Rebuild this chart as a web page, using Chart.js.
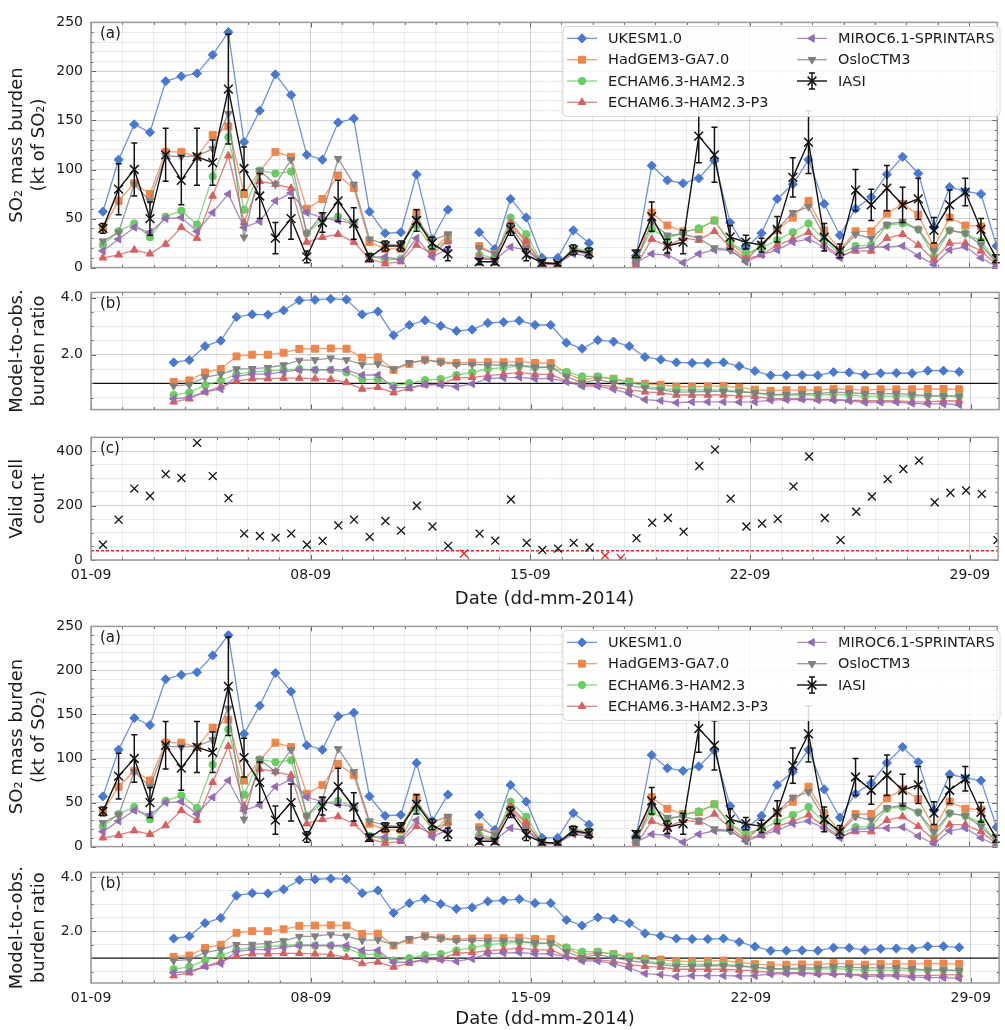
<!DOCTYPE html>
<html>
<head>
<meta charset="utf-8">
<script src="https://cdn.jsdelivr.net/npm/chart.js@4.4.1/dist/chart.umd.min.js"></script>
<style>
  html, body { margin: 0; padding: 0; background: #fff; overflow: hidden; }
  #page { position: relative; width: 1005px; height: 1030px; }
  #page canvas { position: absolute; left: 0; }
</style>
</head>
<body>
<div id="page">
  <canvas id="a1" width="1005" height="278" style="top:6px"></canvas>
  <canvas id="b1" width="1005" height="150" style="top:276px"></canvas>
  <canvas id="c1" width="1005" height="189" style="top:421px"></canvas>
  <canvas id="a2" width="1005" height="253" style="top:610px"></canvas>
  <canvas id="b2" width="1005" height="174" style="top:856px"></canvas>
</div>
<script>
// half-day IASI overpasses, 01-09 to 29-09 (58 slots), days counted from 01-09 00:00
const firstSlotDay = 0.38;
const slotStep = 0.5;
const ratioLag = 4.5;      // ratio series starts 4.5 slots after the first overpass
const xMax = 28.9;
const dateTickDays = [0, 7, 14, 21, 28];
const dateTickLabels = ['01-09', '08-09', '15-09', '22-09', '29-09'];

// SO2 mass burden (kt of SO2)
const ukesmBurden = [57,110,146,138,190,195,198,217,240,128,
  160,197,176,115,110,148,152,57,35,36,
  95,29,59,null,36,19,70,51,10,10,
  38,25,null,null,12,104,89,86,91,109,
  46,20,35,70,85,110,65,33,60,72,
  95,113,96,41,82,78,75,22];
const hadgemBurden = [40,68,86,75,118,118,113,135,144,75,
  98,118,113,60,70,94,81,26,19,19,
  56,17,33,null,22,14,43,26,5,3,
  19,16,null,null,3,56,43,37,39,48,
  25,12,22,38,51,68,38,18,37,37,
  55,65,54,21,51,43,42,7];
const echamBurden = [23,37,45,31,52,58,44,93,133,59,
  99,96,98,35,49,52,45,12,8,9,
  43,20,27,null,13,10,51,34,5,3,
  20,17,null,null,8,39,30,36,40,48,
  26,15,20,28,36,45,28,14,22,23,
  43,45,39,11,38,35,27,5];
const echamP3Burden = [10,13,18,14,24,41,30,73,114,46,
  88,85,81,26,31,34,26,9,4,6,
  23,14,27,null,11,8,46,27,3,3,
  17,14,null,null,2,29,22,30,28,37,
  21,9,13,23,29,36,23,12,17,17,
  30,34,23,8,25,25,17,3];
const mirocBurden = [17,29,41,36,50,51,37,56,75,41,
  47,68,76,56,51,48,45,11,11,8,
  30,11,19,null,9,8,21,18,5,4,
  14,12,null,null,5,14,13,5,14,18,
  18,6,13,18,26,29,21,10,19,21,
  21,22,12,3,18,21,10,1];
const osloBurden = [27,36,85,68,114,113,114,121,157,31,
  99,85,110,35,54,111,85,29,24,23,
  50,28,34,null,20,14,42,20,5,3,
  17,14,null,null,6,46,33,34,30,20,
  18,7,24,39,56,62,32,16,34,30,
  44,47,39,17,38,35,23,5];
const iasiBurden = [40,80,100,50,115,89,113,107,182,101,
  73,30,50,11,46,68,45,10,22,22,
  48,25,14,null,6,6,39,13,5,4,
  18,15,null,null,14,52,22,26,134,115,
  31,26,23,39,92,128,31,17,79,64,
  81,64,70,38,64,77,39,9];
const iasiError = [5,26,27,17,27,25,29,23,56,22,
  23,16,21,6,10,21,16,4,5,5,
  11,6,7,null,3,3,6,6,3,2,
  5,5,null,null,4,15,7,12,27,28,
  12,7,7,13,20,32,14,7,21,16,
  23,18,21,13,15,14,11,4];

// model-to-obs. burden ratio (51 values)
const ukesmRatio = [1.73,1.81,2.30,2.49,3.32,3.41,3.40,3.55,3.90,3.92,
  3.95,3.93,3.41,3.51,2.68,3.04,3.20,3.01,2.83,2.88,
  3.11,3.14,3.19,3.04,3.04,2.42,2.21,2.51,2.46,2.30,
  1.92,1.83,1.73,1.71,1.71,1.73,1.60,1.43,1.28,1.28,
  1.29,1.28,1.39,1.38,1.30,1.35,1.36,1.35,1.44,1.44,1.40];
const hadgemRatio = [1.05,1.10,1.38,1.50,1.94,2.00,2.00,2.07,2.20,2.21,
  2.22,2.21,1.90,1.91,1.47,1.68,1.83,1.76,1.71,1.73,
  1.74,1.74,1.76,1.71,1.71,1.36,1.11,1.22,1.16,1.06,
  0.98,0.95,0.88,0.88,0.89,0.91,0.85,0.78,0.74,0.76,
  0.77,0.76,0.81,0.79,0.76,0.79,0.79,0.79,0.80,0.80,0.79];
const echamRatio = [0.59,0.68,0.93,1.09,1.32,1.39,1.43,1.47,1.50,1.47,
  1.47,1.38,1.14,1.14,0.91,1.00,1.11,1.15,1.29,1.38,
  1.50,1.55,1.60,1.55,1.55,1.40,1.24,1.24,1.14,1.03,
  0.91,0.82,0.77,0.77,0.77,0.77,0.72,0.67,0.59,0.59,
  0.59,0.59,0.61,0.59,0.55,0.55,0.55,0.56,0.56,0.56,0.55];
const echamP3Ratio = [0.35,0.46,0.70,0.88,1.08,1.16,1.16,1.18,1.18,1.16,
  1.14,1.03,0.80,0.86,0.67,0.82,0.95,0.97,1.19,1.21,
  1.27,1.32,1.38,1.31,1.31,1.08,0.95,0.95,0.88,0.77,
  0.70,0.67,0.59,0.59,0.59,0.59,0.56,0.54,0.46,0.46,
  0.46,0.44,0.44,0.41,0.39,0.39,0.39,0.35,0.35,0.38,0.39];
const mirocRatio = [0.46,0.51,0.70,0.80,1.24,1.32,1.32,1.40,1.47,1.47,
  1.47,1.47,1.29,1.29,0.85,0.85,0.95,0.95,0.88,0.98,
  1.16,1.19,1.21,1.16,1.17,1.05,0.90,0.90,0.79,0.64,
  0.43,0.39,0.32,0.35,0.35,0.35,0.34,0.35,0.41,0.43,
  0.44,0.41,0.41,0.39,0.33,0.34,0.34,0.30,0.28,0.28,0.25];
const osloRatio = [0.91,0.95,1.21,1.32,1.50,1.51,1.55,1.64,1.80,1.82,
  1.88,1.82,1.66,1.68,1.50,1.72,1.81,1.73,1.66,1.66,
  1.64,1.64,1.63,1.57,1.57,1.24,1.01,1.14,1.01,0.91,
  0.84,0.77,0.69,0.70,0.72,0.72,0.70,0.67,0.61,0.61,
  0.64,0.64,0.69,0.67,0.64,0.64,0.64,0.61,0.56,0.56,0.55];

// IASI valid cell count per overpass
const validCells = [56,148,262,235,315,301,430,308,227,97,
  88,82,97,56,70,127,148,85,143,108,
  199,123,52,24,97,71,222,63,37,42,
  63,46,16,7,80,137,154,104,345,405,
  225,123,134,151,270,380,154,73,177,233,
  297,334,365,212,247,255,243,73];
const cellThreshold = 34;

const models = [
  { name: 'UKESM1.0', burden: ukesmBurden, ratio: ukesmRatio, color: '#4878d0', style: 'rectRot', rot: 0, r: 4.6, order: 6 },
  { name: 'HadGEM3-GA7.0', burden: hadgemBurden, ratio: hadgemRatio, color: '#ee854a', style: 'rect', rot: 0, r: 4.9, order: 5 },
  { name: 'ECHAM6.3-HAM2.3', burden: echamBurden, ratio: echamRatio, color: '#6acc64', style: 'circle', rot: 0, r: 3.7, order: 4 },
  { name: 'ECHAM6.3-HAM2.3-P3', burden: echamP3Burden, ratio: echamP3Ratio, color: '#d65f5f', style: 'triangle', rot: 0, r: 4.4, order: 3 },
  { name: 'MIROC6.1-SPRINTARS', burden: mirocBurden, ratio: mirocRatio, color: '#956cb4', style: 'triangle', rot: -90, r: 4.4, order: 2 },
  { name: 'OsloCTM3', burden: osloBurden, ratio: osloRatio, color: '#808080', style: 'triangle', rot: 180, r: 4.4, order: 1 }
];

const GRID_MINOR = 'rgba(0,0,0,0.075)';
const GRID_MAJOR = 'rgba(0,0,0,0.18)';
const TEXT = '#1a1a1a';
Chart.defaults.font.family = "'DejaVu Sans', sans-serif";
Chart.defaults.color = TEXT;

const slotDay = i => firstSlotDay + i * slotStep;
const ratioDay = k => slotDay(k + ratioLag);
const toPoints = (vals, dayOf) => vals.map((v, i) => ({ x: dayOf(i), y: v }));
const isMajor = (v, step) => Math.abs(v / step - Math.round(v / step)) < 1e-6;
function range(from, to, step) {
  const out = [];
  for (let v = from; v <= to + 1e-9; v += step) out.push(+v.toFixed(3));
  return out;
}
function withAlpha(hex, a) {
  const n = parseInt(hex.slice(1), 16);
  return `rgba(${n >> 16},${(n >> 8) & 255},${n & 255},${a})`;
}
const dayTicks = range(0, 28, 1);

// frame + inward tick marks, like the matplotlib axes
const framePlugin = {
  id: 'frame',
  afterDraw(chart, args, opts) {
    const { ctx, chartArea: a, scales } = chart;
    ctx.save();
    ctx.strokeStyle = '#666';
    ctx.lineWidth = 1;
    const seg = (x1, y1, x2, y2) => { ctx.beginPath(); ctx.moveTo(x1, y1); ctx.lineTo(x2, y2); ctx.stroke(); };
    scales.x.ticks.forEach(t => {
      const px = Math.round(scales.x.getPixelForValue(t.value)) + 0.5;
      const len = t.value % 7 === 0 ? 5 : 2.5;
      seg(px, a.bottom, px, a.bottom - len);
      seg(px, a.top, px, a.top + len);
    });
    scales.y.ticks.forEach(t => {
      const py = Math.round(scales.y.getPixelForValue(t.value)) + 0.5;
      const len = isMajor(t.value, opts.yMajor) ? 5 : 2.5;
      seg(a.left, py, a.left + len, py);
      seg(a.right, py, a.right - len, py);
    });
    ctx.strokeStyle = '#9a9a9a';
    ctx.lineWidth = 1.5;
    ctx.strokeRect(a.left, a.top, a.right - a.left, a.bottom - a.top);
    if (opts.tag) {
      ctx.fillStyle = TEXT;
      ctx.font = "15px 'DejaVu Sans', sans-serif";
      ctx.textBaseline = 'middle';
      ctx.fillText(opts.tag, a.left + 9, a.top + 12);
    }
    ctx.restore();
  }
};

// horizontal reference line (ratio = 1, cell threshold)
const hlinePlugin = {
  id: 'hline',
  beforeDatasetsDraw(chart, args, opts) {
    if (opts.value === undefined) return;
    const { ctx, chartArea: a, scales } = chart;
    const py = scales.y.getPixelForValue(opts.value);
    ctx.save();
    ctx.strokeStyle = opts.color;
    ctx.lineWidth = opts.width;
    ctx.setLineDash(opts.dash || []);
    ctx.beginPath(); ctx.moveTo(a.left, py); ctx.lineTo(a.right, py); ctx.stroke();
    ctx.restore();
  }
};

// IASI error bars from dataset.errors
const errorBarPlugin = {
  id: 'errorBars',
  afterDatasetsDraw(chart) {
    const { ctx, scales } = chart;
    chart.data.datasets.forEach(ds => {
      if (!ds.errors) return;
      ctx.save();
      ctx.strokeStyle = '#111';
      ctx.lineWidth = 1.5;
      ds.data.forEach((p, i) => {
        const e = ds.errors[i];
        if (p.y === null || e === null) return;
        const px = scales.x.getPixelForValue(p.x);
        const top = scales.y.getPixelForValue(p.y + e);
        const bot = scales.y.getPixelForValue(p.y - e);
        ctx.beginPath();
        ctx.moveTo(px, top); ctx.lineTo(px, bot);
        ctx.moveTo(px - 3, top); ctx.lineTo(px + 3, top);
        ctx.moveTo(px - 3, bot); ctx.lineTo(px + 3, bot);
        ctx.stroke();
      });
      ctx.restore();
    });
  }
};

// two-column legend box (column-major, like matplotlib ncol=2)
const boxLegendPlugin = {
  id: 'boxLegend',
  afterDraw(chart, args, opts) {
    if (!opts.show) return;
    const { ctx, chartArea: a } = chart;
    const bx = a.left + 472, by = a.top + 4, bw = 437, bh = 90;
    ctx.save();
    ctx.beginPath();
    ctx.roundRect(bx, by, bw, bh, 4);
    ctx.fillStyle = 'rgba(255,255,255,0.85)';
    ctx.fill();
    ctx.strokeStyle = '#d6d6d6';
    ctx.lineWidth = 1;
    ctx.stroke();
    chart.data.datasets.forEach((ds, i) => {
      const col = i < 4 ? 0 : 1, row = i < 4 ? i : i - 4;
      const lx = bx + 4 + col * 230, ly = by + 12 + row * 21.3;
      ctx.strokeStyle = ds.borderColor;
      ctx.lineWidth = ds.borderWidth;
      ctx.beginPath(); ctx.moveTo(lx, ly); ctx.lineTo(lx + 30, ly); ctx.stroke();
      if (ds.errors) {
        ctx.strokeStyle = '#111';
        ctx.lineWidth = 1.5;
        ctx.beginPath();
        ctx.moveTo(lx + 15, ly - 8); ctx.lineTo(lx + 15, ly + 8);
        ctx.moveTo(lx + 12, ly - 8); ctx.lineTo(lx + 18, ly - 8);
        ctx.moveTo(lx + 12, ly + 8); ctx.lineTo(lx + 18, ly + 8);
        ctx.stroke();
      }
      ctx.fillStyle = ds.pointBackgroundColor;
      ctx.strokeStyle = ds.pointBorderColor;
      ctx.lineWidth = ds.pointBorderWidth;
      Chart.helpers.drawPoint(ctx, {
        pointStyle: ds.pointStyle, rotation: ds.pointRotation || 0,
        radius: ds.pointRadius, borderWidth: ds.pointBorderWidth
      }, lx + 15, ly);
      ctx.fillStyle = TEXT;
      ctx.font = "14.5px 'DejaVu Sans', sans-serif";
      ctx.textBaseline = 'middle';
      ctx.fillText(ds.label, lx + 41, ly + 1);
    });
    ctx.restore();
  }
};

function xScale(showLabels, height) {
  return {
    type: 'linear', min: 0, max: xMax,
    afterBuildTicks: s => { s.ticks = dayTicks.map(v => ({ value: v })); },
    afterFit: s => { s.height = height; },
    grid: { drawTicks: false, color: c => (c.tick && c.tick.value % 7 === 0) ? GRID_MAJOR : GRID_MINOR },
    border: { display: false },
    ticks: {
      display: showLabels, padding: 7, maxRotation: 0, minRotation: 0, autoSkip: false,
      font: { size: 14 }, color: TEXT,
      callback: v => { const i = dateTickDays.indexOf(v); return i < 0 ? '' : dateTickLabels[i]; }
    },
    title: { display: showLabels, text: 'Date (dd-mm-2014)', font: { size: 18 }, padding: { top: 0, bottom: 0 }, color: TEXT }
  };
}

function yScale(min, max, tickVals, majorStep, fmt, titleLines) {
  return {
    min, max,
    afterBuildTicks: s => { s.ticks = tickVals.map(v => ({ value: v })); },
    afterFit: s => { s.width = 91; },
    grid: { drawTicks: false, color: c => (c.tick && isMajor(c.tick.value, majorStep)) ? GRID_MAJOR : GRID_MINOR },
    border: { display: false },
    ticks: {
      padding: 8, autoSkip: false, font: { size: 14 }, color: TEXT,
      callback: v => isMajor(v, majorStep) ? fmt(v) : ''
    },
    title: { display: true, text: titleLines, font: { size: 18, lineHeight: 1.2 }, padding: { top: 7, bottom: 0 }, color: TEXT }
  };
}

function baseOptions(scales, plugins) {
  return {
    responsive: false, animation: false, devicePixelRatio: 1, events: [],
    layout: { padding: { top: 10, right: 2, left: 0, bottom: 0 } },
    scales,
    plugins: Object.assign({ legend: { display: false }, tooltip: { enabled: false } }, plugins)
  };
}

function modelDataset(m, series, dayOf) {
  return {
    label: m.name, data: toPoints(series, dayOf), order: m.order,
    borderColor: withAlpha(m.color, 0.8), borderWidth: 1.3,
    pointStyle: m.style, pointRotation: m.rot, pointRadius: m.r,
    pointBackgroundColor: m.color, pointBorderColor: m.color, pointBorderWidth: 1
  };
}

function burdenChart(id, tag) {
  const datasets = models.map(m => modelDataset(m, m.burden, slotDay));
  datasets.push({
    label: 'IASI', data: toPoints(iasiBurden, slotDay), errors: iasiError, order: 0,
    borderColor: '#111', borderWidth: 1.4,
    pointStyle: 'crossRot', pointRadius: 6.2, pointRotation: 0,
    pointBackgroundColor: '#111', pointBorderColor: '#111', pointBorderWidth: 1.5
  });
  return new Chart(document.getElementById(id), {
    type: 'line',
    data: { datasets },
    options: baseOptions({
      x: xScale(false, 10),
      y: yScale(0, 250, range(0, 250, 10), 50, v => String(v), ['SO₂ mass burden', '(kt of SO₂)'])
    }, { frame: { yMajor: 50, tag }, boxLegend: { show: true } }),
    plugins: [hlinePlugin, errorBarPlugin, framePlugin, boxLegendPlugin]
  });
}

function ratioChart(id, showDates, xHeight) {
  return new Chart(document.getElementById(id), {
    type: 'line',
    data: { datasets: models.map(m => modelDataset(m, m.ratio, ratioDay)) },
    options: baseOptions({
      x: xScale(showDates, xHeight),
      y: yScale(0.08, 4.18, range(0.5, 4.0, 0.5), 2, v => v.toFixed(1), ['Model-to-obs.', 'burden ratio'])
    }, { frame: { yMajor: 2, tag: '(b)' }, hline: { value: 1, color: '#111', width: 1.3 } }),
    plugins: [hlinePlugin, framePlugin]
  });
}

function countChart(id) {
  const markColor = c => (c.raw && c.raw.y < cellThreshold) ? '#e8231a' : '#111';
  return new Chart(document.getElementById(id), {
    type: 'line',
    data: {
      datasets: [{
        label: 'valid cells', data: toPoints(validCells, slotDay), showLine: false,
        pointStyle: 'crossRot', pointRadius: 5.6, pointBorderWidth: 1.3,
        pointBorderColor: markColor, pointBackgroundColor: markColor
      }]
    },
    options: baseOptions({
      x: xScale(true, 50),
      y: yScale(0, 450, range(0, 450, 50), 200, v => String(v), ['Valid cell', 'count'])
    }, { frame: { yMajor: 200, tag: '(c)' }, hline: { value: cellThreshold, color: '#e8231a', width: 1.3, dash: [3, 2] } }),
    plugins: [hlinePlugin, framePlugin]
  });
}

burdenChart('a1', '(a)');
ratioChart('b1', false, 10);
countChart('c1');
burdenChart('a2', '(a)');
ratioChart('b2', true, 47);
</script>
</body>
</html>
